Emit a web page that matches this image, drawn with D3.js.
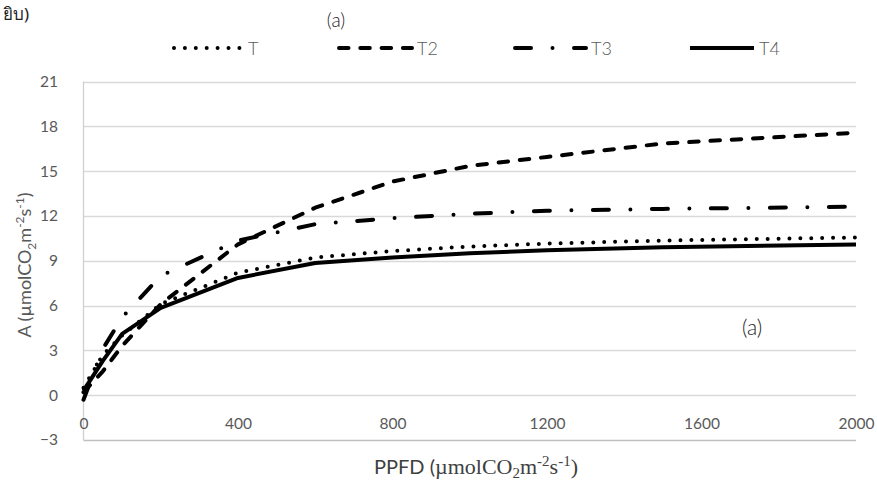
<!DOCTYPE html>
<html>
<head>
<meta charset="utf-8">
<script src="https://cdn.jsdelivr.net/npm/d3@7"></script>
<style>
  html, body { margin: 0; padding: 0; background: #fff; }
  svg { display: block; }
</style>
</head>
<body>
<div id="chart"></div>
<script>
// ---- data ----
const ppfd = [0, 50, 100, 200, 400, 600, 800, 1000, 1200, 1500, 2000];
const seriesNames = ["T", "T2", "T3", "T4"];
const valuesT  = [0.5, 2.7, 4.0, 6.1, 8.2, 9.22, 9.65, 9.95, 10.15, 10.35, 10.56];
const valuesT2 = [0.2, 1.6, 3.3, 6.1, 10.1, 12.55, 14.3, 15.35, 15.95, 16.85, 17.57];
const valuesT3 = [-0.3, 3.1, 5.2, 8.0, 10.35, 11.45, 11.85, 12.15, 12.35, 12.47, 12.62];
const valuesT4 = [0.3, 2.3, 4.1, 5.85, 7.85, 8.85, 9.22, 9.5, 9.7, 9.9, 10.09];
const yTicks = [-3, 0, 3, 6, 9, 12, 15, 18, 21];
const xTicks = [0, 400, 800, 1200, 1600, 2000];

const W = 877, H = 481;
const svg = d3.select("#chart").append("svg").attr("width", W).attr("height", H);

const x = d3.scaleLinear().domain([0, 2000]).range([83.5, 856]);
const y = d3.scaleLinear().domain([-3, 21]).range([440, 81.5]);

const grey = "#595959";
const fontSans = "Lato, 'Open Sans', sans-serif";

// gridlines
svg.append("g").selectAll("line").data(yTicks).join("line")
  .attr("x1", x(0)).attr("x2", x(2000))
  .attr("y1", d => Math.round(y(d)) + 0.5).attr("y2", d => Math.round(y(d)) + 0.5)
  .attr("stroke", d => d === -3 ? "#bfbfbf" : "#d9d9d9").attr("stroke-width", 1.3);

// vertical axis line
svg.append("line")
  .attr("x1", x(0)).attr("x2", x(0))
  .attr("y1", y(21)).attr("y2", y(-3))
  .attr("stroke", "#d0d0d0").attr("stroke-width", 1.3);

// y tick labels
const yAxis = d3.axisLeft(y).tickValues(yTicks).tickSize(0).tickPadding(0);
const gy = svg.append("g").attr("transform", "translate(58,0)").call(yAxis);
gy.select(".domain").remove();
gy.selectAll("text").attr("fill", grey).style("font-family", fontSans).style("font-size", "15.5px");

// x tick labels (sit just above the bottom axis line)
const xAxis = d3.axisBottom(x).tickValues(xTicks).tickSize(0).tickPadding(0).tickFormat(d3.format("d"));
const gx = svg.append("g").attr("transform", "translate(0,418)").call(xAxis);
gx.select(".domain").remove();
gx.selectAll("text").attr("fill", grey).style("font-family", fontSans).style("font-size", "15.5px");

// lines
const styles = {
  T:  { dash: "0,10.9", cap: "round" },
  T2: { dash: "9.5,11.8", cap: "round" },
  T3: { dash: "16,21.5,0,21.5", cap: "round" },
  T4: { dash: null, cap: "butt" }
};
const seriesData = { T: valuesT, T2: valuesT2, T3: valuesT3, T4: valuesT4 };
const line = d3.line().x(d => x(d[0])).y(d => y(d[1]));

seriesNames.forEach(name => {
  const pts = ppfd.map((p, i) => [p, seriesData[name][i]]);
  const st = styles[name];
  svg.append("path")
    .attr("d", line(pts))
    .attr("fill", "none")
    .attr("stroke", "#000")
    .attr("stroke-width", 4)
    .attr("stroke-linecap", st.cap)
    .attr("stroke-linejoin", "round")
    .attr("stroke-dasharray", st.dash);
});

// legend
const legendItems = [
  { name: "T",  x0: 174, x1: 243 },
  { name: "T2", x0: 339, x1: 412 },
  { name: "T3", x0: 515, x1: 586 },
  { name: "T4", x0: 690, x1: 754 }
];
legendItems.forEach(it => {
  const st = styles[it.name];
  svg.append("line")
    .attr("x1", it.x0).attr("x2", it.x1).attr("y1", 48).attr("y2", 48)
    .attr("stroke", "#000").attr("stroke-width", 4)
    .attr("stroke-linecap", st.cap)
    .attr("stroke-dasharray", st.dash);
  svg.append("text")
    .attr("x", it.x1 + 5).attr("y", 55)
    .attr("fill", grey).style("font-family", fontSans).style("font-weight", 300)
    .style("font-size", "18px")
    .text(it.name);
});

// titles
svg.append("text").attr("x", 336).attr("y", 27).attr("text-anchor", "middle")
  .attr("fill", "#222").style("font-family", fontSans).style("font-weight", 300)
  .style("font-size", "19px").text("(a)");

svg.append("text").attr("x", 3).attr("y", 20)
  .attr("fill", "#222").style("font-family", "'Noto Sans', sans-serif").style("font-size", "17px").text("ยิบ)");

svg.append("text").attr("x", 752).attr("y", 335).attr("text-anchor", "middle")
  .attr("fill", "#222").style("font-family", fontSans).style("font-weight", 300)
  .style("font-size", "21px").text("(a)");

// y axis title
const yt = svg.append("text")
  .attr("transform", "translate(31,265) rotate(-90)")
  .attr("text-anchor", "middle")
  .attr("fill", grey).style("font-family", fontSans).style("font-size", "18px");
yt.append("tspan").text("A (µmolCO");
yt.append("tspan").attr("dy", 5).style("font-size", "12px").text("2");
yt.append("tspan").attr("dy", -5).text("m");
yt.append("tspan").attr("dy", -7).style("font-size", "12px").text("-2");
yt.append("tspan").attr("dy", 7).text("s");
yt.append("tspan").attr("dy", -7).style("font-size", "12px").text("-1");
yt.append("tspan").attr("dy", 7).text(")");

// x axis title
const serif = "'Liberation Serif', serif";
const xt = svg.append("text")
  .attr("x", 476).attr("y", 474)
  .attr("text-anchor", "middle")
  .attr("fill", "#404040").style("font-size", "22px");
xt.append("tspan").style("font-family", fontSans).style("font-size", "20px").text("PPFD (");
xt.append("tspan").style("font-family", serif).text("µmolCO");
xt.append("tspan").attr("dy", 4).style("font-family", serif).style("font-size", "15px").text("2");
xt.append("tspan").attr("dy", -4).style("font-family", serif).text("m");
xt.append("tspan").attr("dy", -8).style("font-family", serif).style("font-size", "15px").text("-2");
xt.append("tspan").attr("dy", 8).style("font-family", serif).text("s");
xt.append("tspan").attr("dy", -8).style("font-family", serif).style("font-size", "15px").text("-1");
xt.append("tspan").attr("dy", 8).style("font-family", serif).text(")");
</script>
</body>
</html>
